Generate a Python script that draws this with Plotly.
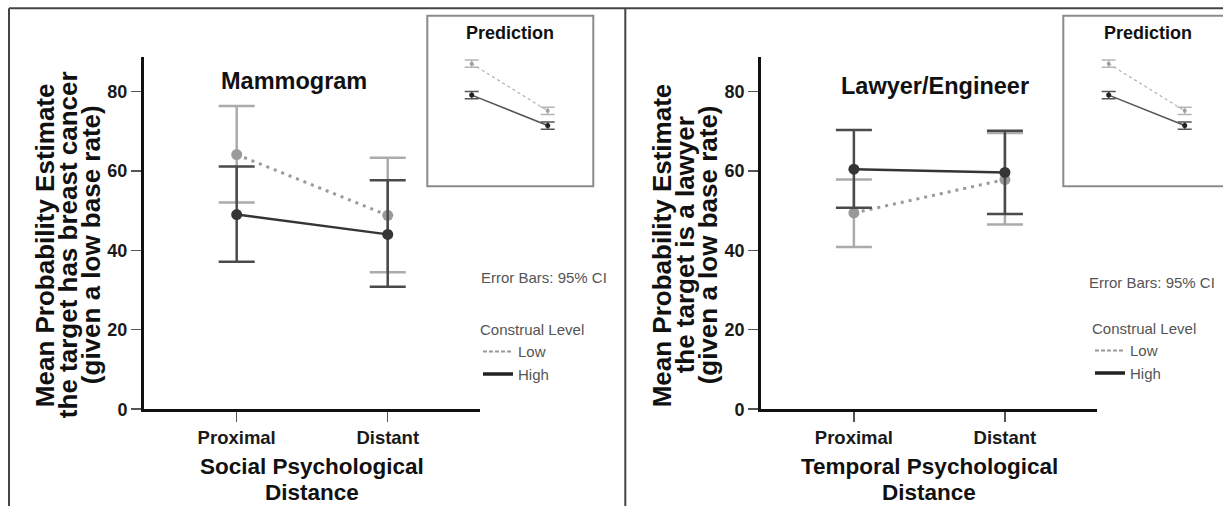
import plotly.graph_objects as go

W, H = 1223, 516
def X(px): return px / W
def Y(py): return 1 - py / H

# ---------------- data ----------------
categories = ["Proximal", "Distant"]

# Left panel: Mammogram (Social psychological distance)
mam_low_mean = [64.1, 48.8]
mam_low_lo = [52.0, 34.5]
mam_low_hi = [76.3, 63.3]
mam_high_mean = [49.0, 44.0]
mam_high_lo = [37.1, 30.8]
mam_high_hi = [61.1, 57.6]

# Right panel: Lawyer/Engineer (Temporal psychological distance)
law_low_mean = [49.4, 57.8]
law_low_lo = [40.8, 46.5]
law_low_hi = [57.8, 69.5]
law_high_mean = [60.4, 59.6]
law_high_lo = [50.7, 49.1]
law_high_hi = [70.3, 70.1]

# Prediction insets (schematic)
pred_low = [85, 37]
pred_high = [53, 22]
pred_ci = [3.7, 3.7]

y_ticks = [0, 20, 40, 60, 80]

FONT = "Liberation Sans, Arial, sans-serif"
DARK = "#353535"
DARK_EB = "#4a4a4a"
LIGHT = "#9a9a9a"
LIGHT_EB = "#ababab"

fig = go.Figure()

def add_panel(xa, ya, low_m, low_lo, low_hi, high_m, high_lo, high_hi):
    fig.add_trace(go.Scatter(
        x=categories, y=low_m, xaxis=xa, yaxis=ya, mode="lines+markers",
        line=dict(color=LIGHT, width=3, dash="3px,5px"),
        marker=dict(color=LIGHT, size=11),
        error_y=dict(type="data", symmetric=False,
                     array=[h - m for h, m in zip(low_hi, low_m)],
                     arrayminus=[m - l for m, l in zip(low_m, low_lo)],
                     width=18, thickness=2.5, color=LIGHT_EB),
        showlegend=False, hoverinfo="skip"))
    fig.add_trace(go.Scatter(
        x=categories, y=high_m, xaxis=xa, yaxis=ya, mode="lines+markers",
        line=dict(color=DARK, width=2.5),
        marker=dict(color=DARK, size=11),
        error_y=dict(type="data", symmetric=False,
                     array=[h - m for h, m in zip(high_hi, high_m)],
                     arrayminus=[m - l for m, l in zip(high_m, high_lo)],
                     width=18, thickness=2.5, color=DARK_EB),
        showlegend=False, hoverinfo="skip"))

def add_inset(xa, ya):
    fig.add_trace(go.Scatter(
        x=categories, y=pred_low, xaxis=xa, yaxis=ya, mode="lines+markers",
        line=dict(color="#b0b0b0", width=1.2, dash="3px,3px"),
        marker=dict(color="#a0a0a0", size=4),
        error_y=dict(type="data", array=pred_ci, width=7, thickness=1.5, color="#b5b5b5"),
        showlegend=False, hoverinfo="skip"))
    fig.add_trace(go.Scatter(
        x=categories, y=pred_high, xaxis=xa, yaxis=ya, mode="lines+markers",
        line=dict(color="#555555", width=1.6),
        marker=dict(color="#222222", size=5),
        error_y=dict(type="data", array=pred_ci, width=7, thickness=1.5, color="#555555"),
        showlegend=False, hoverinfo="skip"))

add_panel("x", "y", mam_low_mean, mam_low_lo, mam_low_hi, mam_high_mean, mam_high_lo, mam_high_hi)
add_panel("x2", "y2", law_low_mean, law_low_lo, law_low_hi, law_high_mean, law_high_lo, law_high_hi)
add_inset("x3", "y3")
add_inset("x4", "y4")

# legend entries
for leg, xa, ya in [("legend", "x", "y"), ("legend2", "x2", "y2")]:
    fig.add_trace(go.Scatter(x=[None], y=[None], xaxis=xa, yaxis=ya, mode="lines",
                             name="Low", legend=leg,
                             line=dict(color="#999999", width=2, dash="4px,2px")))
    fig.add_trace(go.Scatter(x=[None], y=[None], xaxis=xa, yaxis=ya, mode="lines",
                             name="High", legend=leg,
                             line=dict(color="#222222", width=3.5)))

xr = [-0.617, 1.611]
yr = [0, 88.6]
main_x = dict(type="category", range=xr, showline=True, linecolor="#111", linewidth=2.5,
              ticks="outside", ticklen=10, tickwidth=1.5, tickcolor="#555",
              showgrid=False, zeroline=False, fixedrange=True,
              tickfont=dict(family=FONT, size=18.5, color="#1a1a1a", weight="bold"))
main_y = dict(range=yr, tickvals=y_ticks, showline=True, linecolor="#111", linewidth=2.5,
              ticks="outside", ticklen=10, tickwidth=1.5, tickcolor="#555",
              showgrid=False, zeroline=False, fixedrange=True,
              tickfont=dict(family=FONT, size=18, color="#1a1a1a", weight="bold"))
inset_ax = dict(showline=False, showticklabels=False, showgrid=False, zeroline=False,
                ticks="", fixedrange=True)

yd = [Y(417.3), Y(58.3)]
fig.update_layout(
    width=W, height=H, margin=dict(l=0, r=0, t=0, b=0),
    paper_bgcolor="white", plot_bgcolor="rgba(0,0,0,0)",
    font=dict(family=FONT),
    xaxis=dict(main_x, domain=[X(143.5), X(480)], anchor="y"),
    yaxis=dict(main_y, domain=yd, anchor="x"),
    xaxis2=dict(main_x, domain=[X(760.7), X(1097.2)], anchor="y2"),
    yaxis2=dict(main_y, domain=yd, anchor="x2"),
    xaxis3=dict(inset_ax, type="category", range=[-0.5, 1.5], domain=[X(433.7), X(585.7)], anchor="y3"),
    yaxis3=dict(inset_ax, range=[0, 100], domain=[Y(150), Y(50)], anchor="x3"),
    xaxis4=dict(inset_ax, type="category", range=[-0.5, 1.5], domain=[X(1070.7), min(1.0, X(1222.7))], anchor="y4"),
    yaxis4=dict(inset_ax, range=[0, 100], domain=[Y(150), Y(50)], anchor="x4"),
    legend=dict(x=X(478), y=Y(322), xanchor="left", yanchor="top",
                title=dict(text="Construal Level", font=dict(family=FONT, size=15, color="#555")),
                font=dict(family=FONT, size=15, color="#555"), bgcolor="rgba(0,0,0,0)",
                tracegroupgap=0, itemwidth=30),
    legend2=dict(x=X(1090), y=Y(321), xanchor="left", yanchor="top",
                 title=dict(text="Construal Level", font=dict(family=FONT, size=15, color="#555")),
                 font=dict(family=FONT, size=15, color="#555"), bgcolor="rgba(0,0,0,0)",
                 tracegroupgap=0, itemwidth=30),
)

shapes = [
    # outer frame and divider
    dict(type="line", xref="paper", yref="paper", x0=X(9), x1=1.0, y0=Y(8.5), y1=Y(8.5),
         line=dict(color="#444", width=2)),
    dict(type="line", xref="paper", yref="paper", x0=X(9), x1=X(9), y0=Y(8.5), y1=0,
         line=dict(color="#444", width=2)),
    dict(type="line", xref="paper", yref="paper", x0=X(625.3), x1=X(625.3), y0=Y(8.5), y1=0,
         line=dict(color="#444", width=2)),
    # inset boxes
    dict(type="rect", xref="paper", yref="paper", x0=X(427.3), x1=X(593.3), y0=Y(190), y1=Y(16),
         line=dict(color="#8a8a8a", width=2)),
    dict(type="rect", xref="paper", yref="paper", x0=X(1063.3), x1=X(1240), y0=Y(190), y1=Y(16),
         line=dict(color="#8a8a8a", width=2)),
]
fig.update_layout(shapes=shapes)

def ann(text, x, y, size, bold=True, color="#111", angle=0):
    fig.add_annotation(text=text, x=X(x), y=Y(y), xref="paper", yref="paper",
                       xanchor="center", yanchor="middle", showarrow=False, textangle=angle,
                       font=dict(family=FONT, size=size, color=color,
                                 weight="bold" if bold else "normal"))

# panel titles
ann("Mammogram", 293.5, 83, 23.5)
ann("Lawyer/Engineer", 934.7, 88, 23.5)
ann("Prediction", 510.3, 34, 18)
ann("Prediction", 1147.8, 34, 18)

# y axis titles
for dx, lines in [(0, ["Mean Probability Estimate", "the target has breast cancer", "(given a low base rate)"]),
                  (617.2, ["Mean Probability Estimate", "the target is a lawyer", "(given a low base rate)"])]:
    for cx, t in zip([45, 68, 91], lines):
        ann(t, cx + dx, 250, 26, angle=-90)

# x axis titles
ann("Social Psychological", 312, 476, 22.5)
ann("Distance", 312, 502.5, 22.5)
ann("Temporal Psychological", 929.2, 476, 22.5)
ann("Distance", 929.2, 502.5, 22.5)

# error bar notes
ann("Error Bars: 95% CI", 544.2, 282.7, 15, bold=False, color="#555")
ann("Error Bars: 95% CI", 1152.3, 288, 15, bold=False, color="#555")

fig.write_html(
    "out.html",
    config={"displayModeBar": False, "staticPlot": True},
    post_script="document.body.style.margin='0px';document.documentElement.style.overflow='hidden';document.body.style.overflow='hidden';",
)
